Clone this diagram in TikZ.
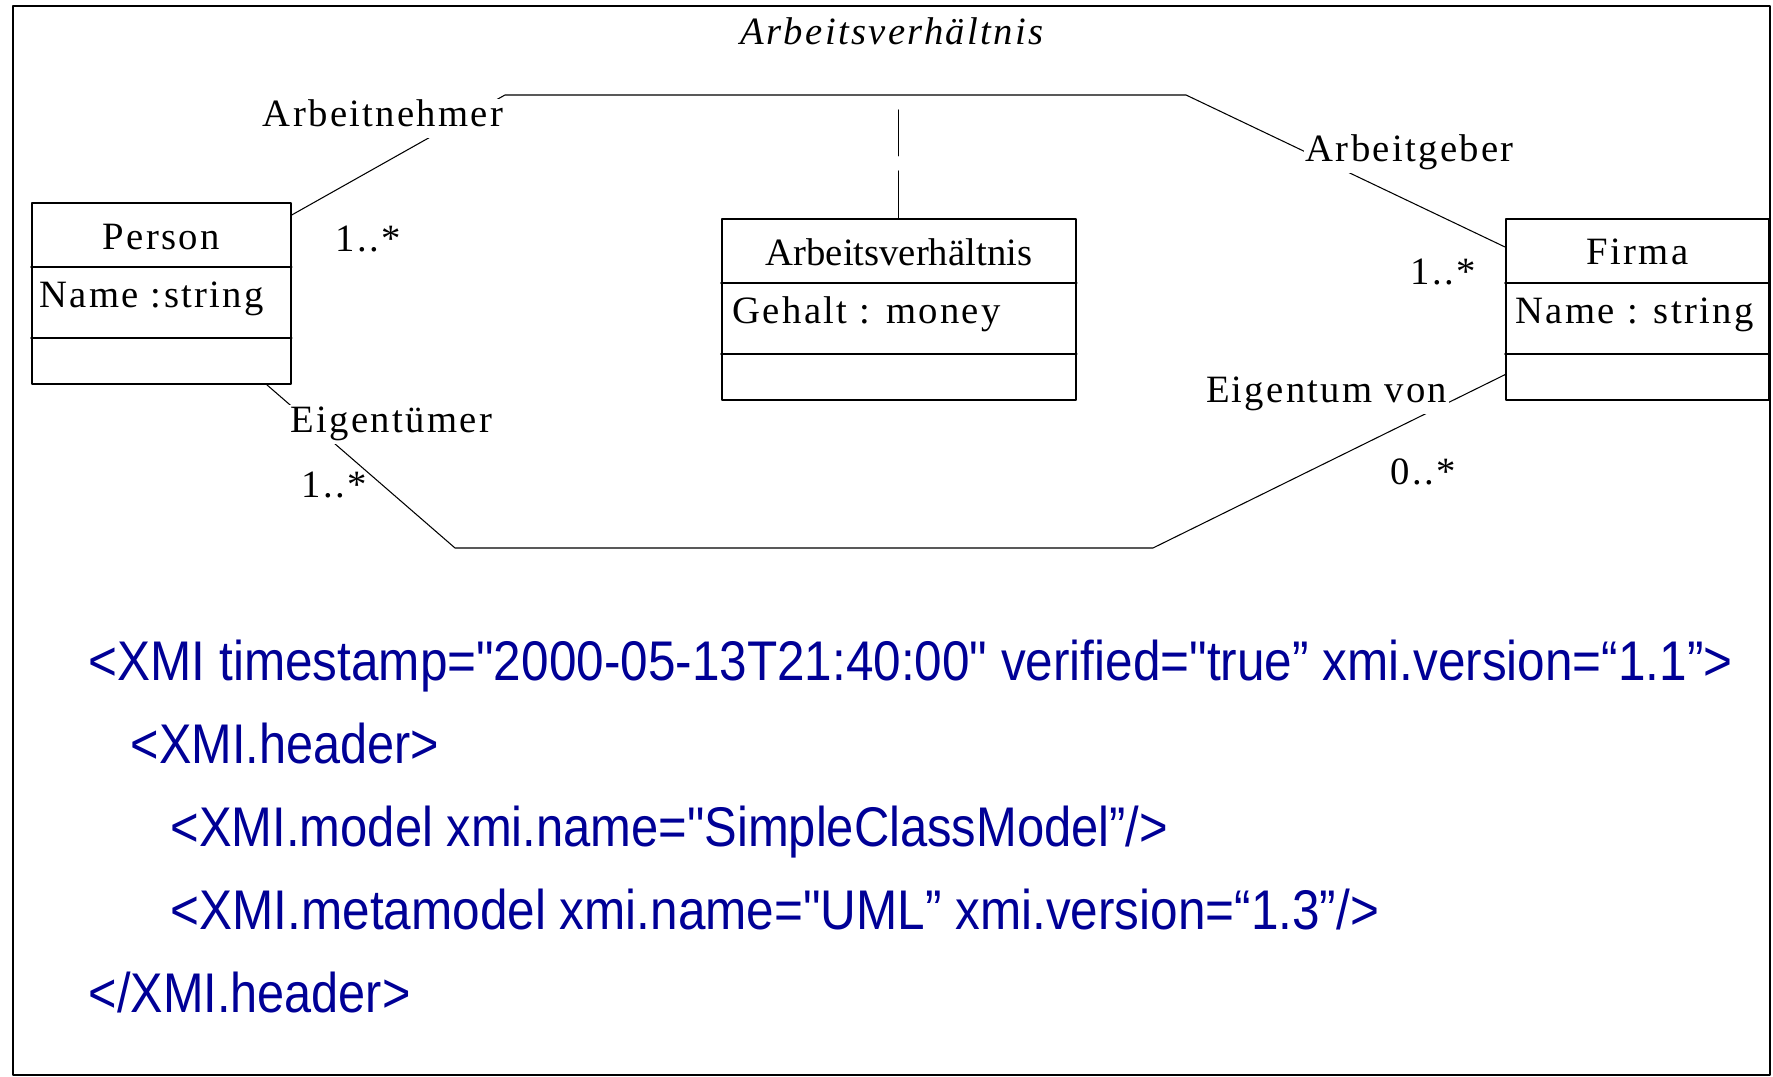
\documentclass[tikz,border=0pt]{standalone}
\usepackage{fontspec}
\setmainfont{Liberation Serif}
\newfontfamily\umlfont[LetterSpace=6]{Liberation Serif}
\newfontfamily\umlfontplain{Liberation Serif}
\newfontfamily\xmifont{Liberation Sans}
\usetikzlibrary{positioning}
\definecolor{xmiblue}{RGB}{0,0,150}

\begin{document}
\begin{tikzpicture}[x=0.01cm, y=-0.01cm, line join=round, line cap=round,
    font=\umlfont\fontsize{11}{13}\selectfont,
    umlclass/.style={draw, line width=0.45pt, anchor=north west, minimum height=1.81cm, inner sep=0pt},
    classname/.style={anchor=base, inner sep=0pt},
    attr/.style={anchor=base west, inner sep=0pt},
    assoc/.style={line width=0.3pt},
    rolename/.style={fill=white, inner xsep=0.02cm, inner ysep=0pt, text height=0.28cm, text depth=0.11cm},
    mult/.style={anchor=base west, inner sep=0pt},
    xmi/.style={anchor=base west, inner sep=0pt, text=xmiblue, font=\xmifont\fontsize{15.9}{19}\selectfont}]
	\useasboundingbox (0,0) rectangle (1773,1077);
	\draw[line width=0.8pt] (13,6) rectangle (1770,1075);
	
	% classes
	\node[umlclass, minimum width=2.59cm] (person) at (31,202) {};
	\node[umlclass, minimum width=3.54cm] (job) at (721,218) {};
	\node[umlclass, minimum width=2.63cm] (firma) at (1505,218) {};
	\foreach \c in {person,job,firma}{
		\draw[line width=0.45pt] ([yshift=-0.65cm]\c.north west) -- ([yshift=-0.65cm]\c.north east);
		\draw[line width=0.45pt] ([yshift=-1.36cm]\c.north west) -- ([yshift=-1.36cm]\c.north east);
	}
	\node[classname] (person-name) at ([yshift=-0.47cm]person.north) {Person};
	\node[attr] (person-attr) at ([xshift=0.08cm, yshift=-1.05cm]person.north west) {Name :string};
	\node[classname] (job-name) at ([yshift=-0.47cm]job.north) {\umlfontplain Arbeitsverhältnis};
	\node[attr] (job-attr) at ([xshift=0.11cm, yshift=-1.05cm]job.north west) {Gehalt : money};
	\node[classname] (firma-name) at ([yshift=-0.46cm]firma.north) {Firma};
	\node[attr] (firma-attr) at ([xshift=0.10cm, yshift=-1.05cm]firma.north west) {Name : string};
	
	% associations
	\coordinate (emp-l) at (505,95);
	\coordinate (emp-r) at (1186,95);
	\coordinate (own-l) at (455,548);
	\coordinate (own-r) at (1153,548);
	\draw[assoc] ([yshift=-0.13cm]person.north east) -- (emp-l) -- (emp-r) -- ([yshift=-0.29cm]firma.north west);
	\draw[assoc] ([xshift=-0.25cm]person.south east) -- (own-l) -- (own-r) -- ([yshift=0.26cm]firma.south west);
	\draw[assoc, dash pattern=on 0.47cm off 0.15cm] (job.north) -- ++(0,-108);
	\node[anchor=base, inner sep=0pt, font=\umlfont\itshape\fontsize{11}{13}\selectfont] (title) at (892,45) {Arbeitsverhältnis};
	
	% role names and multiplicities
	\node[rolename, anchor=base east] (arbeitnehmer) at (506,127) {Arbeitnehmer};
	\node[rolename, anchor=base west] (arbeitgeber) at (1303,162) {Arbeitgeber};
	\node[rolename, anchor=base west] (eigentuemer) at (288,433) {Eigentümer};
	\node[rolename, anchor=base east] (eigentum) at (1450,403) {Eigentum von};
	\node[mult] (m-person-emp) at (335,252) {1..*};
	\node[mult] (m-firma-emp) at (1410,285) {1..*};
	\node[mult] (m-person-own) at (301,498) {1..*};
	\node[mult] (m-firma-own) at (1390,485) {0..*};
	
	% XMI
	\node[xmi] (xmi-1) at (88,681) {\scalebox{0.885}[1]{<XMI timestamp="2000-05-13T21:40:00" verified="true” xmi.version=“1.1”>}};
	\node[xmi] (xmi-2) at (130,764) {\scalebox{0.87}[1]{<XMI.header>}};
	\node[xmi] (xmi-3) at (170,847) {\scalebox{0.875}[1]{<XMI.model xmi.name="SimpleClassModel”/>}};
	\node[xmi] (xmi-4) at (170,930) {\scalebox{0.885}[1]{<XMI.metamodel xmi.name="UML” xmi.version=“1.3”/>}};
	\node[xmi] (xmi-5) at (88,1013) {\scalebox{0.87}[1]{</XMI.header>}};
	
\end{tikzpicture}
\end{document}
